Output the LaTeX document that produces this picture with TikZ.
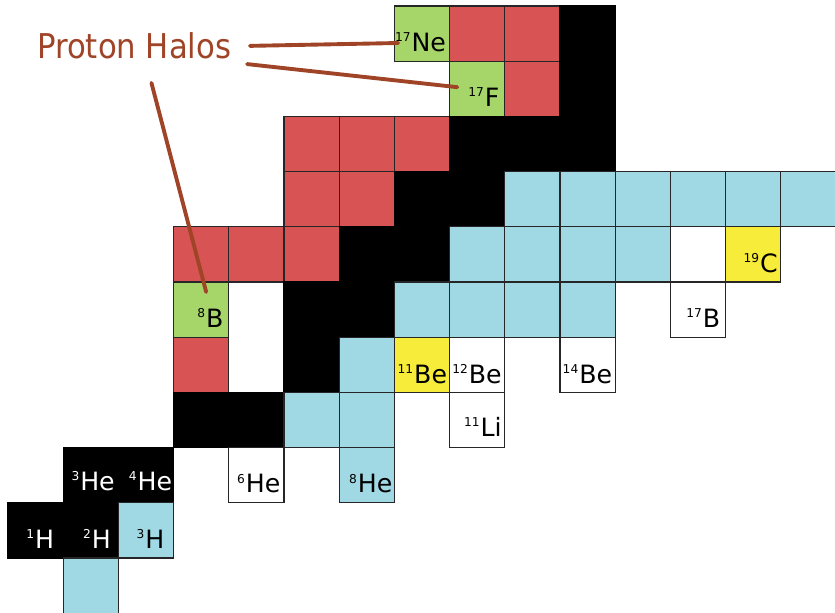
\documentclass[tikz,border=0pt]{standalone}
\usepackage{fontspec}
\setmainfont{DejaVu Sans}
\newfontfamily\calloutfont{DejaVu Sans Condensed}
\usetikzlibrary{positioning}

\definecolor{protonred}{RGB}{216,84,84}
\definecolor{neutronblue}{RGB}{160,216,228}
\definecolor{halogreen}{RGB}{166,214,106}
\definecolor{haloyellow}{RGB}{247,236,58}
\definecolor{halorust}{RGB}{160,68,40}

% mass number, symbol
\newcommand{\iso}[2]{\raisebox{5.1pt}{\fontsize{6.3}{6.3}\selectfont #1}\kern0.5pt#2}

\begin{document}
\begin{tikzpicture}[
		cell/.style={rectangle, draw=black!85, line width=0.6pt, minimum size=1cm, inner sep=0pt},
		pcell/.style={cell, fill=protonred},
		scell/.style={cell, fill=black, draw=black},
		ncell/.style={cell, fill=neutronblue},
		hcell/.style={cell, fill=halogreen},
		ycell/.style={cell, fill=haloyellow},
		wcell/.style={cell, fill=white},
		tag/.style={anchor=base east, inner sep=0pt, font=\fontsize{13}{13}\selectfont},
		tagw/.style={tag, text=white},
		callout/.style={draw=halorust, line width=2pt, line cap=round}
	]
	\useasboundingbox (-0.645,0.609) rectangle (14.482,-10.496);

	% Riga 0
	\node[hcell] (ne17) at (7,0) {};
	\node[pcell] (c8r0) at (8,0) {};
	\node[pcell] (c9r0) at (9,0) {};
	\node[scell] (c10r0) at (10,0) {};

	% Riga 1
	\node[hcell] (f17) at (8,-1) {};
	\node[pcell] (c9r1) at (9,-1) {};
	\node[scell] (c10r1) at (10,-1) {};

	% Riga 2
	\node[pcell] (c5r2) at (5,-2) {};
	\node[pcell] (c6r2) at (6,-2) {};
	\node[pcell] (c7r2) at (7,-2) {};
	\node[scell] (c8r2) at (8,-2) {};
	\node[scell] (c9r2) at (9,-2) {};
	\node[scell] (c10r2) at (10,-2) {};

	% Riga 3
	\node[pcell] (c5r3) at (5,-3) {};
	\node[pcell] (c6r3) at (6,-3) {};
	\node[scell] (c7r3) at (7,-3) {};
	\node[scell] (c8r3) at (8,-3) {};
	\node[ncell] (c9r3) at (9,-3) {};
	\node[ncell] (c10r3) at (10,-3) {};
	\node[ncell] (c11r3) at (11,-3) {};
	\node[ncell] (c12r3) at (12,-3) {};
	\node[ncell] (c13r3) at (13,-3) {};
	\node[ncell] (c14r3) at (14,-3) {};

	% Riga 4
	\node[pcell] (c3r4) at (3,-4) {};
	\node[pcell] (c4r4) at (4,-4) {};
	\node[pcell] (c5r4) at (5,-4) {};
	\node[scell] (c6r4) at (6,-4) {};
	\node[scell] (c7r4) at (7,-4) {};
	\node[ncell] (c8r4) at (8,-4) {};
	\node[ncell] (c9r4) at (9,-4) {};
	\node[ncell] (c10r4) at (10,-4) {};
	\node[ncell] (c11r4) at (11,-4) {};
	\node[ycell] (c19) at (13,-4) {};

	% Riga 5
	\node[hcell] (b8) at (3,-5) {};
	\node[scell] (c5r5) at (5,-5) {};
	\node[scell] (c6r5) at (6,-5) {};
	\node[ncell] (c7r5) at (7,-5) {};
	\node[ncell] (c8r5) at (8,-5) {};
	\node[ncell] (c9r5) at (9,-5) {};
	\node[ncell] (c10r5) at (10,-5) {};
	\node[wcell] (b17) at (12,-5) {};

	% Riga 6
	\node[pcell] (c3r6) at (3,-6) {};
	\node[scell] (c5r6) at (5,-6) {};
	\node[ncell] (c6r6) at (6,-6) {};
	\node[ycell] (be11) at (7,-6) {};
	\node[wcell] (be12) at (8,-6) {};
	\node[wcell] (be14) at (10,-6) {};

	% Riga 7
	\node[scell] (c3r7) at (3,-7) {};
	\node[scell] (c4r7) at (4,-7) {};
	\node[ncell] (c5r7) at (5,-7) {};
	\node[ncell] (c6r7) at (6,-7) {};
	\node[wcell] (li11) at (8,-7) {};

	% Riga 8
	\node[scell] (he3) at (1,-8) {};
	\node[scell] (he4) at (2,-8) {};
	\node[wcell] (he6) at (4,-8) {};
	\node[ncell] (he8) at (6,-8) {};

	% Riga 9 e 10
	\node[scell] (h1) at (0,-9) {};
	\node[scell] (h2) at (1,-9) {};
	\node[ncell] (h3) at (2,-9) {};
	\node[ncell] (n1) at (1,-10) {};

	% Etichette
	\node[tag] (ne17-t) at ([shift={(-0.07,0.19)}]ne17.south east) {\iso{17}{Ne}};
	\node[tag] (f17-t) at ([shift={(-0.1,0.19)}]f17.south east) {\iso{17}{F}};
	\node[tag] (b8-t) at ([shift={(-0.1,0.19)}]b8.south east) {\iso{8}{B}};
	\node[tag] (c19-t) at ([shift={(-0.06,0.19)}]c19.south east) {\iso{19}{C}};
	\node[tag] (b17-t) at ([shift={(-0.1,0.19)}]b17.south east) {\iso{17}{B}};
	\node[tag] (be11-t) at ([shift={(-0.05,0.17)}]be11.south east) {\iso{11}{Be}};
	\node[tag] (be12-t) at ([shift={(-0.06,0.17)}]be12.south east) {\iso{12}{Be}};
	\node[tag] (be14-t) at ([shift={(-0.06,0.17)}]be14.south east) {\iso{14}{Be}};
	\node[tag] (li11-t) at ([shift={(-0.06,0.22)}]li11.south east) {\iso{11}{Li}};
	\node[tagw] (he3-t) at ([shift={(-0.07,0.23)}]he3.south east) {\iso{3}{He}};
	\node[tagw] (he4-t) at ([shift={(-0.03,0.23)}]he4.south east) {\iso{4}{He}};
	\node[tag] (he6-t) at ([shift={(-0.07,0.19)}]he6.south east) {\iso{6}{He}};
	\node[tag] (he8-t) at ([shift={(-0.04,0.19)}]he8.south east) {\iso{8}{He}};
	\node[tagw] (h1-t) at ([shift={(-0.17,0.18)}]h1.south east) {\iso{1}{H}};
	\node[tagw] (h2-t) at ([shift={(-0.14,0.18)}]h2.south east) {\iso{2}{H}};
	\node[tag] (h3-t) at ([shift={(-0.17,0.18)}]h3.south east) {\iso{3}{H}};

	% Richiamo
	\node[anchor=base west, inner sep=0pt, text=halorust, font=\calloutfont\fontsize{17.6}{18}\selectfont] (halos) at (0.025,-0.442) {Proton Halos};
	\coordinate (halos-a) at ([shift={(0.33,0.22)}]halos.base east);
	\coordinate (halos-b) at ([shift={(0.28,-0.11)}]halos.base east);
	\coordinate (halos-c) at ([shift={(0.31,-0.45)}]halos.base);
	\draw[callout] (halos-a) -- ([shift={(0.08,-0.17)}]ne17.west);
	\draw[callout] (halos-b) -- ([shift={(0.15,0.03)}]f17.west);
	\draw[callout] (halos-c) -- ([shift={(0.09,0.32)}]b8.center);

\end{tikzpicture}
\end{document}
